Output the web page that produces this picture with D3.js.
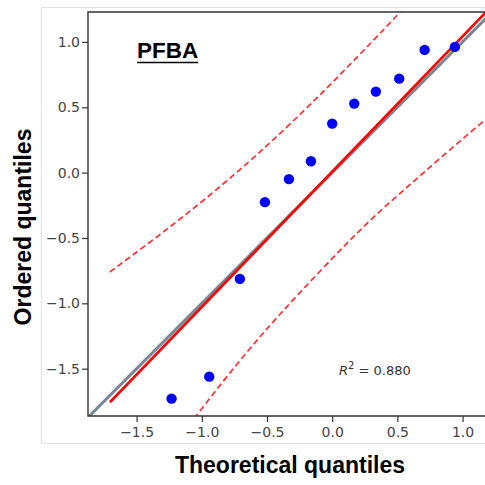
<!DOCTYPE html>
<html>
<head>
<meta charset="utf-8">
<script src="https://cdn.jsdelivr.net/npm/d3@7"></script>
<style>
  body { margin: 0; background: #fff; }
</style>
</head>
<body>
<div id="graph"></div>
<script>
// values
var theoretical = [-1.232, -0.943, -0.708, -0.516, -0.332, -0.163, 0.0, 0.169, 0.335, 0.514, 0.709, 0.941];
var ordered     = [-1.729, -1.561, -0.813, -0.226, -0.050, 0.087, 0.375, 0.528, 0.620, 0.719, 0.939, 0.962];

// regression line (red) and identity line (grey)
var fitX = [-1.705, 1.30];
var fitY = [-1.757, 1.353];
var refX = [-1.95, 1.40];
var refY = [-1.95, 1.40];

// confidence band (dashed)
var upperX = [-1.705, -1.398, -1.145, -0.885, -0.631, -0.455, -0.194, 0.059, 0.312, 0.504, 0.672];
var upperY = [-0.760, -0.533, -0.339, -0.129, 0.089, 0.247, 0.495, 0.747, 1.008, 1.209, 1.391];
var lowerX = [-1.10, -1.045, -0.785, -0.531, -0.271, 0.074, 0.312, 0.573, 0.826, 1.171, 1.25];
var lowerY = [-1.94, -1.862, -1.529, -1.226, -0.940, -0.578, -0.341, -0.112, 0.110, 0.403, 0.468];

var xTicks = [-1.5, -1.0, -0.5, 0.0, 0.5, 1.0];
var yTicks = [-1.5, -1.0, -0.5, 0.0, 0.5, 1.0];
var panelName = "PFBA";
var r2Value = "0.880";

var W = 485, H = 485;
var margin = {top: 12, left: 88},
  width = 400,
  height = 404;

var svg = d3.select("#graph")
  .append("svg")
    .attr("width", W)
    .attr("height", H)
    .style("font-family", "'DejaVu Sans', sans-serif");

// faint outer frame of the figure
svg.append("path")
  .attr("d", "M485,7.5H41.5V443.5H485")
  .attr("fill", "none")
  .attr("stroke", "#e2e2e2")
  .attr("stroke-width", 1);

var g = svg.append("g")
  .attr("transform", "translate(" + margin.left + "," + margin.top + ")");

var x = d3.scaleLinear()
  .domain([-1.873, 1.195])
  .range([0, width]);

var y = d3.scaleLinear()
  .domain([-1.862, 1.229])
  .range([height, 0]);

g.append("clipPath")
  .attr("id", "clip")
  .append("rect")
    .attr("width", width)
    .attr("height", height);

var plot = g.append("g").attr("clip-path", "url(#clip)");

var line = d3.line()
  .x(function(d) { return x(d[0]); })
  .y(function(d) { return y(d[1]); });

var smooth = d3.line()
  .curve(d3.curveBasis)
  .x(function(d) { return x(d[0]); })
  .y(function(d) { return y(d[1]); });

var zip = function(a, b) {
  return a.map(function(v, i) { return [v, b[i]]; });
};

// identity line
plot.append("path")
  .datum(zip(refX, refY))
  .attr("fill", "none")
  .attr("stroke", "#7a8794")
  .attr("stroke-width", 3)
  .attr("d", line);

// fit line
plot.append("path")
  .datum(zip(fitX, fitY))
  .attr("fill", "none")
  .attr("stroke", "#ff0000")
  .attr("stroke-width", 2.6)
  .attr("d", line);

// bands
[zip(upperX, upperY), zip(lowerX, lowerY)].forEach(function(band) {
  plot.append("path")
    .datum(band)
    .attr("fill", "none")
    .attr("stroke", "#ff3030")
    .attr("stroke-width", 1.7)
    .attr("stroke-dasharray", "6,3.5")
    .attr("d", smooth);
});

// points
plot.selectAll("circle")
  .data(zip(theoretical, ordered))
  .enter()
  .append("circle")
    .attr("cx", function(d) { return x(d[0]); })
    .attr("cy", function(d) { return y(d[1]); })
    .attr("r", 5.2)
    .attr("fill", "#0000ff");

// axes
var xAxis = g.append("g")
  .attr("transform", "translate(0," + height + ")")
  .call(d3.axisBottom(x).tickValues(xTicks).tickFormat(d3.format(".1f")).tickSize(6).tickPadding(5));

var yAxis = g.append("g")
  .call(d3.axisLeft(y).tickValues(yTicks).tickFormat(d3.format(".1f")).tickSize(6).tickPadding(2));

[xAxis, yAxis].forEach(function(a) {
  a.select(".domain").remove();
  a.selectAll("line").attr("stroke", "#333").attr("stroke-width", 1.2);
  a.selectAll("text")
    .attr("fill", "#444")
    .style("font-size", "14px")
    .style("font-family", "'DejaVu Sans', sans-serif");
});

// spines (left, top, bottom)
g.append("path")
  .attr("d", "M" + width + ",0H0V" + height + "H" + width)
  .attr("fill", "none")
  .attr("stroke", "#333")
  .attr("stroke-width", 1.4);

// panel title
var title = g.append("text")
  .attr("x", 49)
  .attr("y", 46)
  .style("font-family", "'Liberation Sans', Arial, sans-serif")
  .style("font-weight", "bold")
  .style("font-size", "22.5px")
  .attr("fill", "#000")
  .text(panelName);

var tb = title.node().getBBox();
g.append("line")
  .attr("x1", tb.x)
  .attr("x2", tb.x + tb.width)
  .attr("y1", 50.5)
  .attr("y2", 50.5)
  .attr("stroke", "#000")
  .attr("stroke-width", 1.6);

// R^2 annotation
var r2 = g.append("text")
  .attr("x", 251)
  .attr("y", 363)
  .attr("fill", "#333")
  .style("font-size", "13px");
r2.append("tspan").style("font-style", "italic").text("R");
r2.append("tspan").attr("dy", -6).style("font-size", "10px").text("2");
r2.append("tspan").attr("dy", 6).text(" = " + r2Value);

// axis labels
svg.append("text")
  .attr("x", 290)
  .attr("y", 473)
  .attr("text-anchor", "middle")
  .style("font-family", "'Liberation Sans', Arial, sans-serif")
  .style("font-weight", "bold")
  .style("font-size", "23px")
  .text("Theoretical quantiles");

svg.append("text")
  .attr("transform", "translate(31,227) rotate(-90)")
  .attr("text-anchor", "middle")
  .style("font-family", "'Liberation Sans', Arial, sans-serif")
  .style("font-weight", "bold")
  .style("font-size", "23px")
  .text("Ordered quantiles");
</script>
</body>
</html>
